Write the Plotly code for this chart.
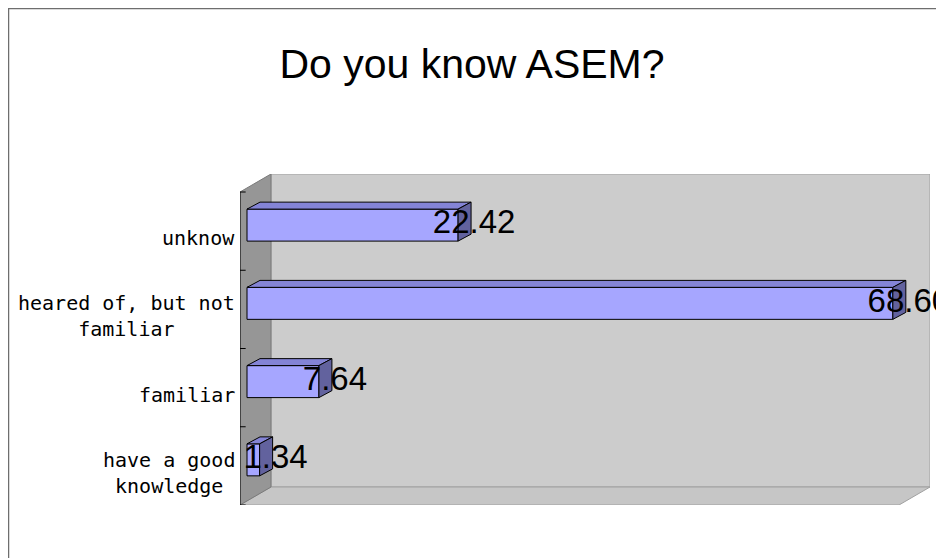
import plotly.graph_objects as go

# ---- data ----
categories = ["unknow", "heared of, but not<br>familiar", "familiar", "have a good<br>knowledge"]
values = [22.42, 68.60, 7.64, 1.34]
title_text = "Do you know ASEM?"
axis_max = 70

# ---- geometry (pseudo-3D, in axis units) ----
n = len(categories)
ypos = [n - 1 - i for i in range(n)]          # top-to-bottom order
DX, DY = 3.29, 0.23                            # wall depth
bx0, by0 = 0.744, 0.077                        # bar front-face offset
bh = 0.409                                     # bar thickness
ddx, ddy = 1.38, 0.089                         # bar depth
lab_dx = 1.70                                  # label offset past bar end

ML, MR, MT, MB = 232, 22, 166, 61
W, H = 944, 558
PW, PH = W - ML - MR, H - MT - MB

fig = go.Figure()

# front faces
fig.add_trace(go.Bar(
    x=values, y=[p + by0 for p in ypos], base=bx0, orientation="h", width=bh,
    marker=dict(color="#A6A6FF", line=dict(color="#000000", width=1)),
    hoverinfo="skip", showlegend=False))

# top and side faces
tx, ty, sx, sy = [], [], [], []
for v, p in zip(values, ypos):
    yc = p + by0
    yt, yb = yc + bh / 2, yc - bh / 2
    x1 = bx0 + v
    tx += [bx0, x1, x1 + ddx, bx0 + ddx, bx0, None]
    ty += [yt, yt, yt + ddy, yt + ddy, yt, None]
    sx += [x1, x1, x1 + ddx, x1 + ddx, x1, None]
    sy += [yb, yt, yt + ddy, yb + ddy, yb, None]
fig.add_trace(go.Scatter(x=tx, y=ty, mode="lines", fill="toself", fillcolor="#8484D6",
                         line=dict(color="#000000", width=1), hoverinfo="skip", showlegend=False))
fig.add_trace(go.Scatter(x=sx, y=sy, mode="lines", fill="toself", fillcolor="#62629E",
                         line=dict(color="#000000", width=1), hoverinfo="skip", showlegend=False))

# value labels
fig.add_trace(go.Scatter(
    x=[bx0 + v + lab_dx for v in values], y=[p + by0 for p in ypos],
    mode="text", text=[f"{v:.2f}" for v in values], textposition="middle center",
    textfont=dict(family="Liberation Sans", size=33, color="#000000"),
    cliponaxis=False, hoverinfo="skip", showlegend=False))

y_lo, y_hi = -0.5, n - 0.5
shapes = [
    # back wall
    dict(type="rect", xref="x", yref="y", x0=DX, x1=axis_max + DX, y0=y_lo + DY, y1=y_hi + DY,
         fillcolor="#CCCCCC", line=dict(color="#A0A0A0", width=1), layer="below"),
    # floor
    dict(type="path", xref="x", yref="y",
         path=f"M 0 {y_lo} L {axis_max} {y_lo} L {axis_max + DX} {y_lo + DY} L {DX} {y_lo + DY} Z",
         fillcolor="#C6C6C6", line=dict(color="#A0A0A0", width=1), layer="below"),
    # left wall
    dict(type="path", xref="x", yref="y",
         path=f"M 0 {y_lo} L 0 {y_hi} L {DX} {y_hi + DY} L {DX} {y_lo + DY} Z",
         fillcolor="#969696", line=dict(color="#7A7A7A", width=1), layer="below"),
    # axis line
    dict(type="line", xref="x", yref="y", x0=0, x1=0, y0=y_lo, y1=y_hi,
         line=dict(color="#000000", width=1)),
    # outer chart border
    dict(type="rect", xref="paper", yref="paper",
         x0=(0.5 - ML) / PW, x1=(W + 20 - ML) / PW,
         y0=-(MB + 20) / PH, y1=(H - MB - 0.5) / PH,
         line=dict(color="#6E6E6E", width=1.5), fillcolor="rgba(0,0,0,0)", layer="below"),
]
for k in range(n + 1):
    yk = y_lo + k
    shapes.append(dict(type="line", xref="x", yref="y", x0=0, x1=0.6, y0=yk, y1=yk,
                       line=dict(color="#000000", width=1)))

annotations = []
for c, p in zip(categories, ypos):
    annotations.append(dict(x=0, xref="paper", y=p, yref="y", text=c, showarrow=False,
                            xanchor="right", yanchor="middle", align="center",
                            xshift=-3, yshift=-7,
                            font=dict(family="DejaVu Sans Mono", size=20, color="#000000")))

fig.update_layout(
    width=W, height=H,
    margin=dict(l=ML, r=MR, t=MT, b=MB),
    paper_bgcolor="#FFFFFF", plot_bgcolor="#FFFFFF",
    title=dict(text=title_text, x=(472 - 8) / W, xref="container", xanchor="center",
               y=1 - 55.5 / H, yref="container", yanchor="middle",
               font=dict(family="Liberation Sans", size=41, color="#000000")),
    xaxis=dict(range=[0, axis_max + DX], visible=False, fixedrange=True),
    yaxis=dict(range=[y_lo, y_hi + DY], visible=False, fixedrange=True),
    shapes=shapes, annotations=annotations,
    showlegend=False, hovermode=False, barmode="overlay",
)

fig.write_html("out.html")
